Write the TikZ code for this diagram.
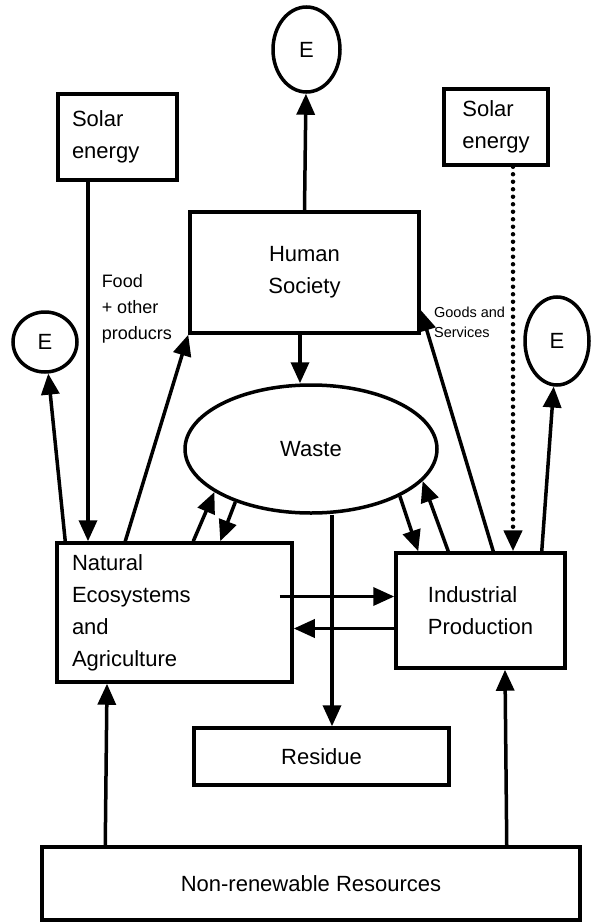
\documentclass[tikz,border=0pt]{standalone}
\usepackage{fontspec}
\setmainfont{Liberation Sans}
\usepackage{tikz}
\usetikzlibrary{shapes.geometric, arrows.meta, calc}
\tikzset{
	>={Triangle[length=21pt, width=18pt]},
	every edge/.append style={->},
	every node/.style={font=\fontsize{22}{32}\selectfont},
	box/.style={draw, rectangle, inner sep=0pt},
	blob/.style={draw, ellipse, inner sep=0pt},
	dotline/.style={line width=4.5pt, dash pattern=on 0pt off 7.5pt, line cap=round},
	small label/.style={inner sep=0pt, align=left, font=\fontsize{18}{26}\selectfont},
	tiny label/.style={inner sep=0pt, align=left, font=\fontsize{14.5}{20}\selectfont},
}

\begin{document}
\begin{tikzpicture}[x=1pt, y=-1pt, line width=3.5pt]
			\useasboundingbox (0,0) rectangle (590,923);
			\node [blob, minimum width=67pt, minimum height=85pt] (Etop) at (306.5,49.5) {E};
			\node [blob, minimum width=64pt, minimum height=60pt] (Eleft) at (45,342) {E};
			\node [blob, minimum width=64pt, minimum height=88pt] (Eright) at (557,341) {E};
			\node [box, minimum width=119pt, minimum height=86pt, text width=91pt, align=left] (SUNleft) at (117.5,137) {Solar\\energy};
			\node [box, minimum width=104pt, minimum height=76pt, align=left] (SUNright) at (496,127) {Solar\\energy};
			\node [box, minimum width=229pt, minimum height=121pt, align=center] (HUMAN) at (304.5,272.5) {Human\\Society};
			\node [blob, minimum width=252pt, minimum height=128pt] (WASTE) at (311,449) {Waste};
			\node [box, minimum width=235pt, minimum height=139pt, text width=205pt, align=left] (NATURE) at (174.5,612.5) {Natural\\Ecosystems\\and\\Agriculture};
			\node [box, minimum width=169pt, minimum height=115pt, align=left] (INDUSTRY) at (480.5,610.5) {Industrial\\Production};
			\node [box, minimum width=255pt, minimum height=57pt] (RESIDUE) at (321.5,756.5) {Residue};
			\node [box, minimum width=538pt, minimum height=73pt] (RESOURCES) at (311,883.5) {Non-renewable Resources};
			
			\draw (HUMAN.north) edge[] (Etop);
			\draw ([xshift=-29.5pt]SUNleft.south) edge[] node[pos=0.354, right, xshift=12pt, small label]{Food\\+ other\\producrs} ([xshift=-86.5pt]NATURE.north);
			\draw ([xshift=10pt]NATURE.north west) edge[] (Eleft);
			\draw ([xshift=70pt]NATURE.north west) edge[] (HUMAN.south west);
			\draw ([xshift=-4.5pt]HUMAN.south) edge[] ([xshift=-11pt]WASTE.north);
			\draw ([xshift=138pt]NATURE.north west) edge[] (WASTE.204);
			\draw (WASTE.215) edge[] ([xshift=165pt]NATURE.north west);
			\draw (WASTE.332) edge[] ([xshift=24pt]INDUSTRY.north west);
			\draw ([xshift=54pt]INDUSTRY.north west) edge[] (WASTE.344);
			\draw ([xshift=99pt]INDUSTRY.north west) edge[] node[pos=0.95, right, xshift=8pt, tiny label]{Goods and\\Services} ([yshift=-37.5pt]HUMAN.east);
			\draw ([xshift=17pt]SUNright.south) edge[dotline] ([xshift=32.5pt]INDUSTRY.north);
			\draw ([xshift=-25pt]INDUSTRY.north east) edge[] (Eright);
			\draw ([xshift=-14pt, yshift=16pt]NATURE.east) edge[] ([yshift=14pt]INDUSTRY.west);
			\draw ([yshift=-18pt]INDUSTRY.west) edge[] ([yshift=-16pt]NATURE.east);
			\draw ([xshift=21pt]WASTE.south) edge[] ([xshift=10.5pt]RESIDUE.north);
			\draw ([xshift=65pt]RESOURCES.north west) edge[] ([xshift=-67.5pt]NATURE.south);
			\draw ([xshift=-75pt]RESOURCES.north east) edge[] ([xshift=24.5pt]INDUSTRY.south);
			
\end{tikzpicture}
\end{document}
